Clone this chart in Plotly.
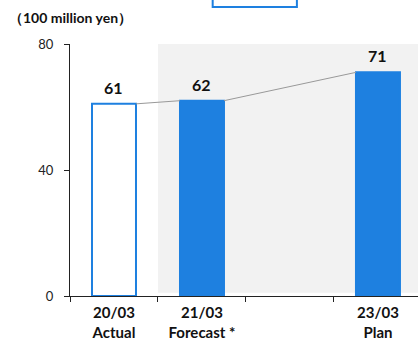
import plotly.graph_objects as go

categories = ["20/03<br>Actual", "21/03<br>Forecast *", " ", "23/03<br>Plan"]
values = [61, 62, None, 71]
bar_fills = ["white", "#1E80E0", "#1E80E0", "#1E80E0"]
y_ticks = [0, 40, 80]
unit_label = "（100 million yen）"

BLUE = "#1E80E0"
FONT = "Lato"

fig = go.Figure()
fig.add_trace(go.Bar(
    x=categories,
    y=values,
    marker=dict(color=bar_fills, line=dict(color=BLUE, width=2)),
    width=0.5,
    showlegend=False,
    hoverinfo="skip",
))

# value labels
for c, v in zip(categories, values):
    if v is None:
        continue
    fig.add_annotation(x=c, y=v, text=f"<b>{v}</b>", showarrow=False,
                       yanchor="bottom", yshift=5,
                       font=dict(family=FONT, size=16, color="#111"))

# connector lines between bar tops
idx = [i for i, v in enumerate(values) if v is not None]
for a, b in zip(idx[:-1], idx[1:]):
    fig.add_shape(type="line", xref="x", yref="y",
                  x0=a + 0.25, y0=values[a], x1=b - 0.25, y1=values[b],
                  line=dict(color="#999999", width=1), layer="above")

# shaded forecast/plan region
fig.add_shape(type="rect", xref="x", yref="y", x0=0.5, x1=4, y0=1, y1=80,
              fillcolor="#F2F2F2", line=dict(width=0), layer="below")

# cut-off legend box at top
fig.add_shape(type="rect", xref="paper", yref="paper", x0=0.41, x1=0.652,
              y0=1.147, y1=1.2, fillcolor="white",
              line=dict(color=BLUE, width=2), layer="above")

fig.add_annotation(xref="paper", yref="paper", x=-0.182, y=1.107,
                   xanchor="left", yanchor="middle", showarrow=False,
                   text=f"<b>{unit_label}</b>",
                   font=dict(family=FONT, size=14, color="#111"))

fig.update_layout(
    width=418, height=344,
    margin=dict(l=70, r=0, t=44, b=48),
    plot_bgcolor="white", paper_bgcolor="white",
    font=dict(family=FONT, color="#111"),
)
fig.update_xaxes(
    type="category", categoryorder="array", categoryarray=categories,
    range=[-0.5, 3.455], showline=True, linecolor="#222", linewidth=1,
    ticks="outside", tickson="boundaries", ticklen=5, tickcolor="#222",
    tickfont=dict(family=FONT, size=15, color="#111"), showgrid=False,
    tickprefix="<b>", ticksuffix="</b>", ticklabelstandoff=3,
)
fig.update_yaxes(
    range=[0, 80], tickvals=y_ticks, showline=True, linecolor="#222",
    linewidth=1, ticks="outside", ticklen=5, tickcolor="#222",
    tickfont=dict(family=FONT, size=13, color="#222"), showgrid=False,
    zeroline=False, ticklabelstandoff=8,
)

fig.write_html("out.html")
